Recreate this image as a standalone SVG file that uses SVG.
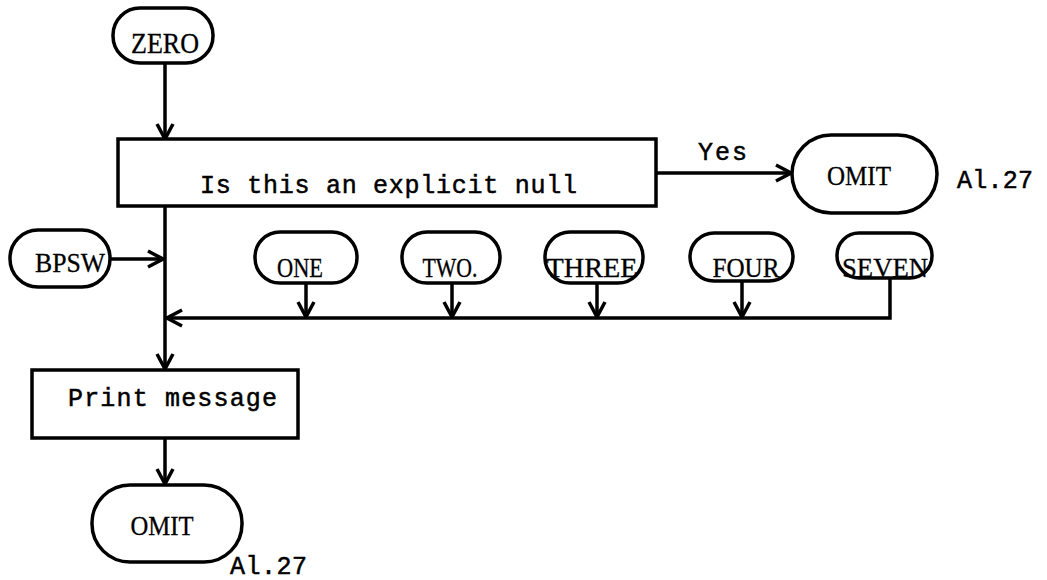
<svg xmlns="http://www.w3.org/2000/svg" width="1047" height="580" viewBox="0 0 1047 580">
<style>
.t{fill:#fff;stroke:#000;stroke-width:3.5}
.b{fill:#fff;stroke:#000;stroke-width:3.5}
.c{fill:none;stroke:#000;stroke-width:3.5}
.tx{font-family:"Liberation Mono",monospace;font-size:25px;fill:#000;stroke:#000;stroke-width:0.5}
.lx{font-family:"Liberation Serif",serif;font-size:27px;fill:#000;stroke:#000;stroke-width:0.3}
</style>
<defs>
<marker id="a" markerUnits="userSpaceOnUse" viewBox="0 0 20 20" refX="18" refY="10" markerWidth="20" markerHeight="20" orient="auto">
<path d="M3,2 L18,10 L3,18" fill="none" stroke="#000" stroke-width="3.5"/>
</marker>
</defs>
<rect width="1047" height="580" fill="#fff"/>
<g id="connectors">
<line class="c" x1="165" y1="63" x2="165" y2="139" marker-end="url(#a)"/>
<line class="c" x1="656" y1="173" x2="791" y2="173" marker-end="url(#a)"/>
<line class="c" x1="165" y1="206" x2="165" y2="369" marker-end="url(#a)"/>
<line class="c" x1="110" y1="259" x2="163" y2="259" marker-end="url(#a)"/>
<polyline class="c" points="890,278 890,318 167,318" marker-end="url(#a)"/>
<line class="c" x1="306" y1="283" x2="306" y2="317" marker-end="url(#a)"/>
<line class="c" x1="452" y1="283" x2="452" y2="317" marker-end="url(#a)"/>
<line class="c" x1="597" y1="283" x2="597" y2="317" marker-end="url(#a)"/>
<line class="c" x1="742" y1="281" x2="742" y2="317" marker-end="url(#a)"/>
<line class="c" x1="165" y1="438" x2="165" y2="484" marker-end="url(#a)"/>
<text class="tx" x="698" y="160" textLength="49">Yes</text>
</g>
<g id="zero"><rect class="t" x="113" y="8" width="100" height="55" rx="27"/><text class="lx" x="165" y="53" text-anchor="middle" textLength="68" lengthAdjust="spacingAndGlyphs" style="font-size:29px">ZERO</text></g>
<g id="decision"><rect class="b" x="118" y="139" width="538" height="67"/><text class="tx" x="200" y="193" textLength="377">Is this an explicit null</text></g>
<g id="omit1"><rect class="t" x="792" y="135" width="145" height="78" rx="39"/><text class="lx" x="859" y="185" text-anchor="middle" textLength="64" lengthAdjust="spacingAndGlyphs">OMIT</text><text class="tx" x="957" y="188" textLength="76">Al.27</text></g>
<g id="bpsw"><rect class="t" x="10" y="230" width="100" height="57" rx="28"/><text class="lx" x="70" y="272" text-anchor="middle" textLength="70" lengthAdjust="spacingAndGlyphs">BPSW</text></g>
<g id="one"><rect class="t" x="255" y="232" width="102" height="51" rx="25"/><text class="lx" x="300" y="277" text-anchor="middle" textLength="46" lengthAdjust="spacingAndGlyphs">ONE</text></g>
<g id="two"><rect class="t" x="402" y="232" width="98" height="51" rx="25"/><text class="lx" x="450" y="277" text-anchor="middle" textLength="55" lengthAdjust="spacingAndGlyphs">TWO.</text></g>
<g id="three"><rect class="t" x="545" y="232" width="98" height="51" rx="25"/><text class="lx" x="592" y="277" text-anchor="middle" textLength="91" lengthAdjust="spacingAndGlyphs">THREE</text></g>
<g id="four"><rect class="t" x="690" y="233" width="103" height="48" rx="24"/><text class="lx" x="746" y="277" text-anchor="middle" textLength="67" lengthAdjust="spacingAndGlyphs">FOUR</text></g>
<g id="seven"><rect class="t" x="837" y="233" width="95" height="45" rx="22"/><text class="lx" x="885" y="277" text-anchor="middle" textLength="86" lengthAdjust="spacingAndGlyphs">SEVEN</text></g>
<g id="print"><rect class="b" x="32" y="370" width="266" height="68"/><text class="tx" x="68" y="406" textLength="209">Print message</text></g>
<g id="omit2"><rect class="t" x="92" y="485" width="150" height="77" rx="38"/><text class="lx" x="162" y="535" text-anchor="middle" textLength="63" lengthAdjust="spacingAndGlyphs">OMIT</text><text class="tx" x="230" y="574" textLength="77">Al.27</text></g>
</svg>
